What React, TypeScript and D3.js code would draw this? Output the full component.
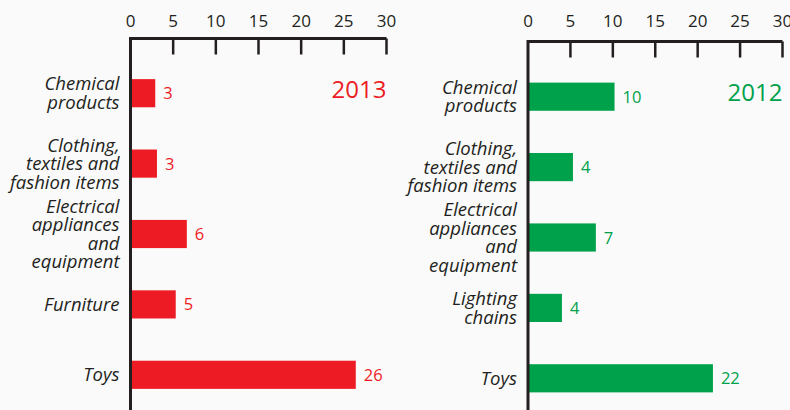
import { useEffect, useRef } from 'react'
import * as d3 from 'd3'

// 2013 panel
const categories2013 = ['Chemical products', 'Clothing, textiles and fashion items', 'Electrical appliances and equipment', 'Furniture', 'Toys']
const lines2013 = [['Chemical', 'products'], ['Clothing,', 'textiles and', 'fashion items'], ['Electrical', 'appliances', 'and', 'equipment'], ['Furniture'], ['Toys']]
const values2013 = [2.9, 3.1, 6.6, 5.3, 26.4]
const valueLabels2013 = ['3', '3', '6', '5', '26']

// 2012 panel
const categories2012 = ['Chemical products', 'Clothing, textiles and fashion items', 'Electrical appliances and equipment', 'Lighting chains', 'Toys']
const lines2012 = [['Chemical', 'products'], ['Clothing,', 'textiles and', 'fashion items'], ['Electrical', 'appliances', 'and', 'equipment'], ['Lighting', 'chains'], ['Toys']]
const values2012 = [10.2, 5.3, 8, 4, 21.8]
const valueLabels2012 = ['10', '4', '7', '4', '22']

const xTicks = [0, 5, 10, 15, 20, 25, 30]

const WIDTH = 790
const HEIGHT = 410
const INK = '#231f20'
const FONT = '"Open Sans", "Noto Sans", sans-serif'

interface PanelOpts {
  x0: number
  x1: number
  axisY: number
  yRange: [number, number]
  categories: string[]
  lines: string[][]
  values: number[]
  valueLabels: string[]
  color: string
  year: string
  yearY: number
}

function drawPanel(svg: d3.Selection<SVGSVGElement, unknown, null, undefined>, o: PanelOpts) {
  const g = svg.append('g')

  const x = d3.scaleLinear().domain([0, 30]).range([o.x0, o.x1])
  const y = d3.scaleBand<string>()
    .domain(o.categories)
    .range(o.yRange)
    .paddingInner(0.6)
    .paddingOuter(0.3)

  // bars
  g.selectAll('.bar')
    .data(o.values)
    .enter().append('rect')
    .attr('x', x(0))
    .attr('y', (_, i) => y(o.categories[i])!)
    .attr('width', d => x(d) - x(0))
    .attr('height', y.bandwidth())
    .attr('fill', o.color)

  // value labels
  g.selectAll('.val')
    .data(o.values)
    .enter().append('text')
    .attr('x', d => x(d) + 8)
    .attr('y', (_, i) => y(o.categories[i])! + y.bandwidth() / 2 + 6)
    .style('font-family', FONT)
    .style('font-size', '16.5px')
    .attr('fill', o.color)
    .text((_, i) => o.valueLabels[i])

  // category labels
  const lh = 18.5
  o.lines.forEach((ls, i) => {
    const cy = y(o.categories[i])! + y.bandwidth() / 2
    const first = cy - ((ls.length - 1) * lh) / 2 + 6.5
    const t = g.append('text')
      .attr('text-anchor', 'end')
      .style('font-family', FONT)
      .style('font-style', 'italic')
      .style('font-size', '18.5px')
      .attr('fill', INK)
    ls.forEach((l, j) => {
      t.append('tspan')
        .attr('x', o.x0 - 11)
        .attr('y', first + j * lh)
        .text(l)
    })
  })

  // top axis
  g.append('line')
    .attr('x1', x(0)).attr('x2', x(30))
    .attr('y1', o.axisY).attr('y2', o.axisY)
    .attr('stroke', INK).attr('stroke-width', 3)
  g.selectAll('.tick')
    .data(xTicks.slice(1))
    .enter().append('line')
    .attr('x1', d => x(d)).attr('x2', d => x(d))
    .attr('y1', o.axisY).attr('y2', o.axisY + 16)
    .attr('stroke', INK).attr('stroke-width', 2.5)
  g.selectAll('.tickLabel')
    .data(xTicks)
    .enter().append('text')
    .attr('x', d => x(d))
    .attr('y', 27)
    .attr('text-anchor', 'middle')
    .style('font-family', FONT)
    .style('font-size', '17px')
    .attr('fill', INK)
    .text(d => d)

  // vertical axis line
  g.append('line')
    .attr('x1', x(0)).attr('x2', x(0))
    .attr('y1', o.axisY - 1.5).attr('y2', HEIGHT)
    .attr('stroke', INK).attr('stroke-width', 3)

  // year
  g.append('text')
    .attr('x', x(30))
    .attr('y', o.yearY)
    .attr('text-anchor', 'end')
    .style('font-family', FONT)
    .style('font-size', '24px')
    .attr('fill', o.color)
    .text(o.year)
}

export default function App() {
  const svgRef = useRef<SVGSVGElement>(null)

  useEffect(() => {
    if (!svgRef.current) return
    const svg = d3.select(svgRef.current)
    svg.selectAll('*').remove()

    svg.append('rect').attr('width', WIDTH).attr('height', HEIGHT).attr('fill', '#fafafa')

    drawPanel(svg, {
      x0: 130.5, x1: 386.5, axisY: 38.5, yRange: [58, 410],
      categories: categories2013, lines: lines2013, values: values2013, valueLabels: valueLabels2013,
      color: '#ed1c24', year: '2013', yearY: 98,
    })
    drawPanel(svg, {
      x0: 528, x1: 782.5, axisY: 41.5, yRange: [61.5, 413.5],
      categories: categories2012, lines: lines2012, values: values2012, valueLabels: valueLabels2012,
      color: '#00a14b', year: '2012', yearY: 101,
    })
  }, [])

  return (
    <svg
      ref={svgRef}
      width={WIDTH}
      height={HEIGHT}
      style={{ position: 'absolute', left: 0, top: 0 }}
    />
  )
}
